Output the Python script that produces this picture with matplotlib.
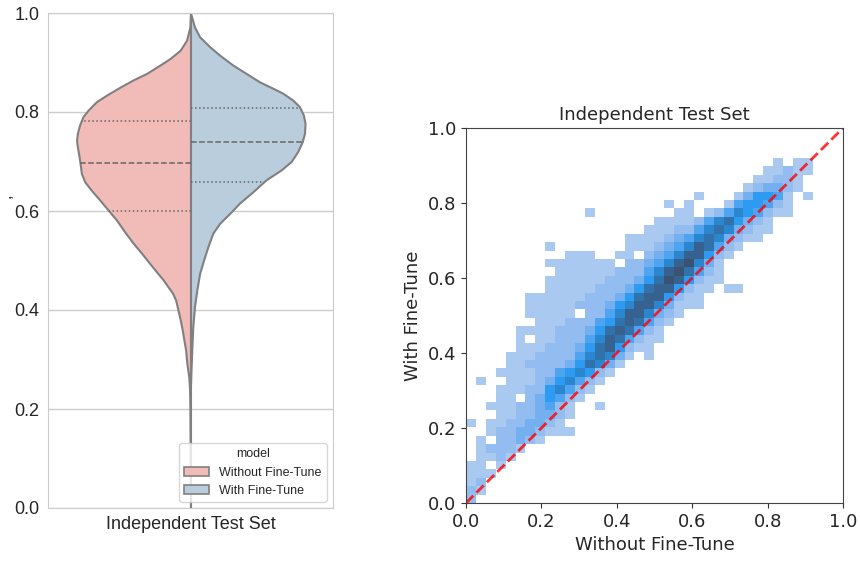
import numpy as np
import matplotlib
matplotlib.use("Agg")
import matplotlib.pyplot as plt
from matplotlib.colors import ListedColormap, BoundaryNorm
from matplotlib.patches import Patch

models = ["Without Fine-Tune", "With Fine-Tune"]
category = "Independent Test Set"

# violin outlines: score and half width of each half
without_y = [0.0, 0.10, 0.20, 0.238, 0.265, 0.293, 0.319, 0.339, 0.36, 0.38, 0.40, 0.42, 0.434,
             0.447, 0.461, 0.477, 0.494, 0.515, 0.535, 0.558, 0.582, 0.602, 0.622, 0.642,
             0.659, 0.676, 0.690, 0.710, 0.730, 0.743, 0.757, 0.774, 0.791, 0.804, 0.821,
             0.834, 0.850, 0.865, 0.878, 0.895, 0.908, 0.925, 0.945, 0.972, 1.0]
without_w = [0.0, 0.001, 0.002, 0.003, 0.006, 0.013, 0.017, 0.023, 0.029, 0.036, 0.044, 0.052, 0.063,
             0.079, 0.096, 0.119, 0.143, 0.172, 0.201, 0.231, 0.260, 0.289, 0.318, 0.348,
             0.371, 0.383, 0.386, 0.391, 0.397, 0.400, 0.397, 0.389, 0.377, 0.359, 0.330,
             0.295, 0.248, 0.201, 0.154, 0.107, 0.072, 0.036, 0.014, 0.002, 0.0]
with_y = [0.25, 0.285, 0.326, 0.366, 0.407, 0.440, 0.474, 0.501, 0.528, 0.555, 0.575, 0.595,
          0.616, 0.639, 0.663, 0.683, 0.700, 0.720, 0.740, 0.757, 0.777, 0.794, 0.811, 0.824,
          0.838, 0.848, 0.861, 0.878, 0.895, 0.915, 0.932, 0.952, 0.972, 1.0]
with_w = [0.0, 0.002, 0.005, 0.008, 0.014, 0.022, 0.032, 0.046, 0.061, 0.078, 0.102, 0.137,
          0.172, 0.219, 0.265, 0.318, 0.353, 0.376, 0.392, 0.400, 0.402, 0.396, 0.382, 0.359,
          0.324, 0.289, 0.242, 0.195, 0.148, 0.102, 0.067, 0.032, 0.014, 0.0]
without_quartiles = [0.601, 0.697, 0.782]
with_quartiles = [0.659, 0.739, 0.808]

# 2d histogram, count level per cell, top row first
hist_rows = [
    "00000 00000 00000 00000 00000 00000 01011",
    "00000 00000 00000 00000 00000 00000 11211",
    "00000 00000 00000 00000 00000 00001 12210",
    "00000 00000 00000 00000 00000 00012 33210",
    "00000 00000 00000 00000 00010 00135 54101",
    "00000 00000 00000 00000 10100 01455 42100",
    "00000 00000 00100 00000 01101 24654 21100",
    "00000 00000 00000 00001 11124 67532 10000",
    "00000 00000 00000 00011 12246 76321 10000",
    "00000 00000 00000 01111 23467 63211 00000",
    "00000 00010 00000 01112 34687 42100 00000",
    "00000 00000 11100 11023 46885 21000 00000",
    "00000 00011 11111 02234 68963 10000 00000",
    "00000 00001 11111 22246 89742 10000 00000",
    "00000 00011 11112 22357 98521 10000 00000",
    "00000 00011 11122 23578 85211 01100 00000",
    "00000 01111 11222 35788 52110 00000 00000",
    "00000 01111 12223 56886 31110 00000 00000",
    "00000 01111 10224 68863 21000 00000 00000",
    "00000 00111 22245 78742 10000 00000 00000",
    "00000 11112 22357 87421 00000 00000 00000",
    "00000 10112 22468 74211 00000 00000 00000",
    "00000 11122 23578 52110 00000 00000 00000",
    "00001 11222 24676 31010 00000 00000 00000",
    "00001 12222 35763 10000 00000 00000 00000",
    "00011 11224 56521 00000 00000 00000 00000",
    "01001 11235 64210 00000 00000 00000 00000",
    "00011 12256 42100 00000 00000 00000 00000",
    "00011 02354 21000 00000 00000 00000 00000",
    "00111 22342 10010 00000 00000 00000 00000",
    "00011 22332 10000 00000 00000 00000 00000",
    "10112 23321 00000 00000 00000 00000 00000",
    "00122 33211 10000 00000 00000 00000 00000",
    "01022 32100 00000 00000 00000 00000 00000",
    "01222 10000 00000 00000 00000 00000 00000",
    "01121 00000 00000 00000 00000 00000 00000",
    "11010 00000 00000 00000 00000 00000 00000",
    "11100 00000 00000 00000 00000 00000 00000",
    "12000 00000 00000 00000 00000 00000 00000",
    "21000 00000 00000 00000 00000 00000 00000",
    "20000 00000 00000 00000 00000 00000 00000",
]
level_colors = ["#a9c9f0", "#93bdf0", "#74aff0", "#4fa4f2", "#2d9bf2",
                "#2b86d0", "#3172ab", "#37628f", "#3b5372"]

fill_colors = ["#f1bcb8", "#b9cddd"]
edge = "#808080"

fig = plt.figure(figsize=(8.6, 5.67), dpi=100)

# ---- left: split violin (seaborn whitegrid look)
ax1 = fig.add_axes([48 / 860, 1 - 508 / 567, 285 / 860, 495 / 567])
for ys, ws, qs, col, sign in [(without_y, without_w, without_quartiles, fill_colors[0], -1),
                              (with_y, with_w, with_quartiles, fill_colors[1], 1)]:
    ws = np.array(ws)
    ax1.fill_betweenx(ys, sign * ws, 0, facecolor=col, edgecolor=edge, lw=1.5, zorder=2)
    for i, q in enumerate(qs):
        w = np.interp(q, ys, ws)
        ax1.plot([0, sign * w], [q, q], color="#666666", lw=1.1,
                 ls="--" if i == 1 else ":", zorder=3)

ax1.set_xlim(-0.5, 0.5)
ax1.set_ylim(0, 1)
ax1.set_yticks([0, 0.2, 0.4, 0.6, 0.8, 1.0])
ax1.set_yticklabels(["0.0", "0.2", "0.4", "0.6", "0.8", "1.0"])
ax1.set_xticks([0])
ax1.set_xticklabels([category])
ax1.yaxis.grid(True, color="#cccccc", lw=1, zorder=0)
ax1.set_axisbelow(True)
for s in ax1.spines.values():
    s.set_color("#cccccc")
ax1.tick_params(length=0, labelsize=13, labelcolor="#262626", pad=6)
for lab in ax1.get_xticklabels() + ax1.get_yticklabels():
    lab.set_family("Liberation Sans")

handles = [Patch(facecolor=c, edgecolor=edge, lw=1.2) for c in fill_colors]
leg = ax1.legend(handles, models, title="model", loc="lower right",
                 prop={"family": "Liberation Sans", "size": 9}, framealpha=0.8,
                 edgecolor="#cccccc", fancybox=True)
leg.get_title().set_fontsize(9)
leg.get_title().set_family("Liberation Sans")
leg.get_title().set_color("#262626")
for t in leg.get_texts():
    t.set_color("#262626")

# clipped y label remnant at the left edge
fig.text(6 / 860, 1 - 196 / 567, ",", rotation=90, fontsize=12, color="#262626",
         ha="center", va="center", family="Liberation Sans")

# ---- right: 2d histogram
counts = np.array([[int(ch) for ch in row.replace(" ", "")] for row in hist_rows[::-1]], dtype=float)
counts = np.ma.masked_equal(counts, 0)
x_edges = np.linspace(0, 0.92, counts.shape[1] + 1)
y_edges = np.linspace(0, 0.92, counts.shape[0] + 1)

ax2 = fig.add_axes([466 / 860, 1 - 503 / 567, 377 / 860, 375 / 567])
cmap = ListedColormap(level_colors)
norm = BoundaryNorm(np.arange(0.5, 10.5, 1), cmap.N)
ax2.pcolormesh(x_edges, y_edges, counts, cmap=cmap, norm=norm, edgecolors="none", antialiased=False)
ax2.plot([0, 1], [0, 1], "--", color="red", lw=2, alpha=0.8)
ax2.set_xlim(0, 1)
ax2.set_ylim(0, 1)
ax2.set_xticks([0, 0.2, 0.4, 0.6, 0.8, 1.0])
ax2.set_yticks([0, 0.2, 0.4, 0.6, 0.8, 1.0])
ax2.tick_params(labelsize=13, color="#333333", labelcolor="#262626")
for s in ax2.spines.values():
    s.set_color("#444444")
ax2.set_title(category, fontsize=13, color="#262626")
ax2.set_xlabel(models[0], fontsize=13, color="#262626")
ax2.set_ylabel(models[1], fontsize=13, color="#262626")

fig.savefig("out.png", dpi=100, facecolor="white")
